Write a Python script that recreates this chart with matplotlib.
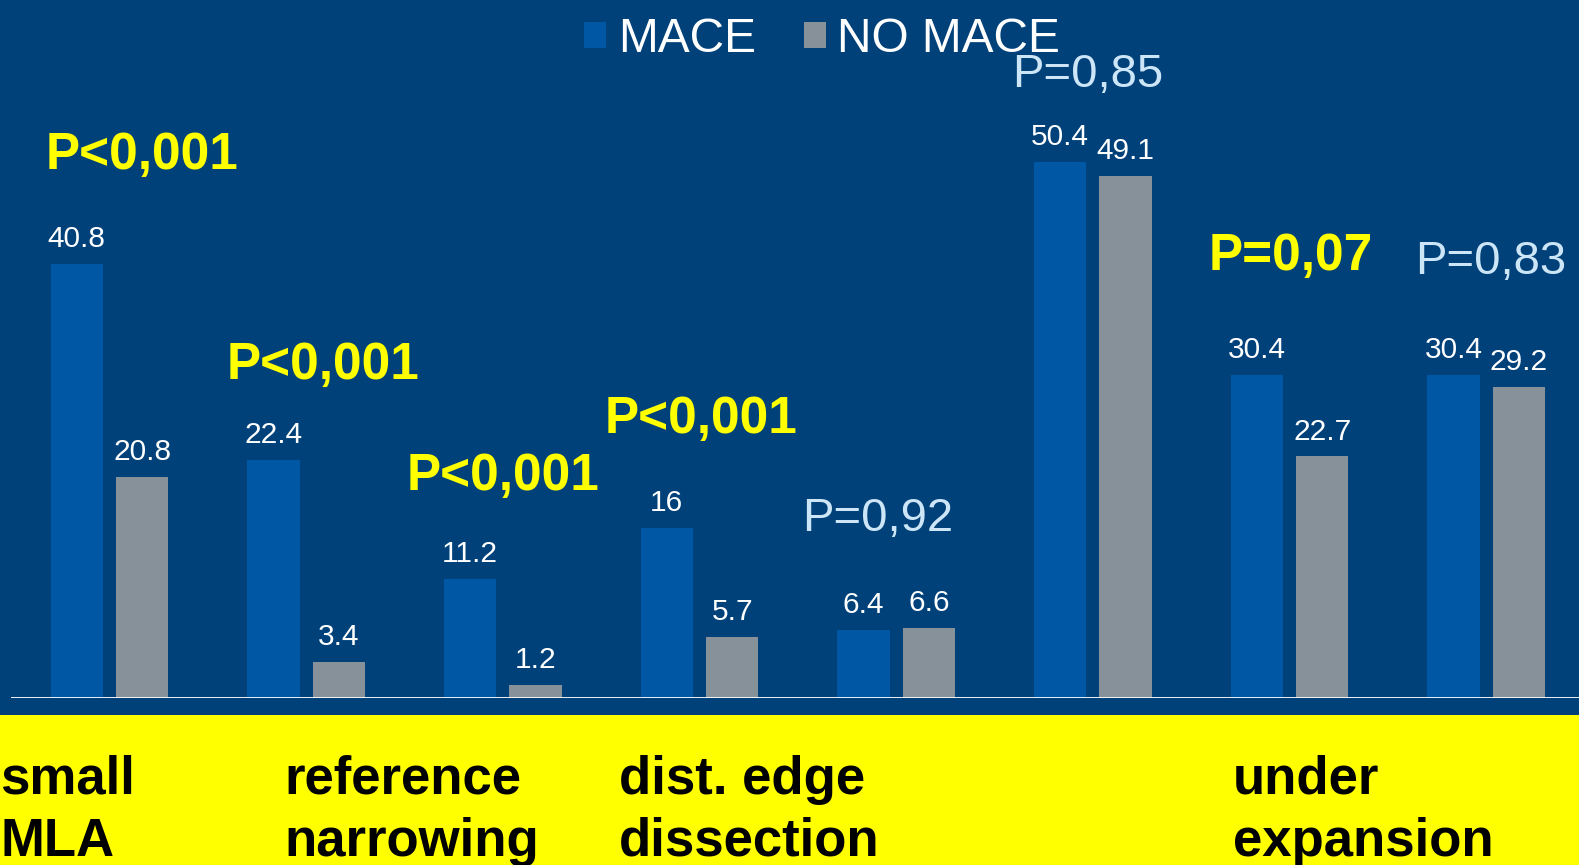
import matplotlib
matplotlib.use("Agg")
import matplotlib.pyplot as plt
import numpy as np

plt.rcParams['font.family'] = ['Liberation Sans', 'DejaVu Sans']

# ---- data ----
groups = ["small MLA", "", "reference narrowing", "", "dist. edge dissection", "", "", "under expansion"]
mace = [40.8, 22.4, 11.2, 16, 6.4, 50.4, 30.4, 30.4]
no_mace = [20.8, 3.4, 1.2, 5.7, 6.6, 49.1, 22.7, 29.2]
mace_labels = ["40.8", "22.4", "11.2", "16", "6.4", "50.4", "30.4", "30.4"]
no_mace_labels = ["20.8", "3.4", "1.2", "5.7", "6.6", "49.1", "22.7", "29.2"]
series_names = ["MACE", "NO MACE"]

p_texts = ["P<0,001", "P<0,001", "P<0,001", "P<0,001", "P=0,92", "P=0,85", "P=0,07", "P=0,83"]
p_bold = [True, True, True, True, False, False, True, False]
# text left x / baseline y in display pixels (1568x859 reference)
p_pos = [(45, 168), (225, 376), (404, 487), (600, 430), (797, 527), (1005, 86), (1200, 268), (1405, 272)]

bottom_labels = ["small\nMLA", "reference\nnarrowing", "dist. edge\ndissection", "under\nexpansion"]
bottom_x = [0, 282, 615, 1224]

BG = "#00417a"
C_MACE = "#0057a3"
C_NO = "#879199"
YELLOW = "#ffff00"
LIGHT = "#cde6f7"

W, H = 1568.0, 859.0

fig = plt.figure(figsize=(15.79, 8.65), dpi=100)
fig.patch.set_facecolor(BG)

# axes geometry (displayed px)
ax_left = 11
grp = 195.3
base_y = 693
px_per_unit = 10.56
ax = fig.add_axes([ax_left / W, 1 - base_y / H, 8 * grp / W, base_y / H])
ax.set_facecolor("none")
ymax = base_y / px_per_unit
ax.set_ylim(0, ymax)
ax.set_xlim(-0.5, 7.5)

x = np.arange(len(mace))
bw = 52 / grp
off = 32.5 / grp
b1 = ax.bar(x - off, mace, bw, color=C_MACE, label=series_names[0], zorder=2)
b2 = ax.bar(x + off, no_mace, bw, color=C_NO, label=series_names[1], zorder=2)

for xi, v, t in zip(x - off, mace, mace_labels):
    ax.annotate(t, (xi, v), xytext=(0, 12.2), textcoords="offset points",
                ha="center", va="baseline", color="white", fontsize=21.5)
for xi, v, t in zip(x + off, no_mace, no_mace_labels):
    ax.annotate(t, (xi, v), xytext=(0, 12.2), textcoords="offset points",
                ha="center", va="baseline", color="white", fontsize=21.5)

for s in ax.spines.values():
    s.set_visible(False)
ax.set_xticks([])
ax.set_yticks([])
ax.axhline(0, color="white", lw=2, zorder=3)

# legend
leg = fig.legend(handles=[b1, b2], loc="upper center", ncol=2, frameon=False,
                 fontsize=34.5, handlelength=0.46, handleheight=0.46,
                 handletextpad=0.24, columnspacing=1.0, borderpad=0,
                 bbox_to_anchor=(816.5 / W, 1 + 7 / H))
for t in leg.get_texts():
    t.set_color("white")

# p-values
for t, b, (px, py) in zip(p_texts, p_bold, p_pos):
    fig.text(px / W, 1 - py / H, t, ha="left", va="baseline",
             color=YELLOW if b else LIGHT,
             fontsize=37 if b else 34, fontweight="bold" if b else "normal")

# yellow band
band_top = 710
fig.patches.append(plt.Rectangle((0, 0), 1, 1 - band_top / H, transform=fig.transFigure,
                                 facecolor=YELLOW, edgecolor="none", zorder=0))
for lbl, bx in zip(bottom_labels, bottom_x):
    l1, l2 = lbl.split("\n")
    fig.text(bx / W, 1 - 788 / H, l1, ha="left", va="baseline", color="black",
             fontsize=38, fontweight="bold")
    fig.text(bx / W, 1 - 850 / H, l2, ha="left", va="baseline", color="black",
             fontsize=38, fontweight="bold")

fig.savefig("out.png", dpi=100, facecolor=BG)
